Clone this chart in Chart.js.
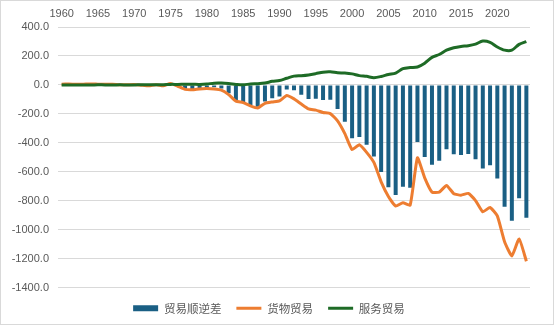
<!DOCTYPE html>
<html>
<head>
<meta charset="utf-8">
<script src="https://cdn.jsdelivr.net/npm/chart.js@4.4.1/dist/chart.umd.min.js"></script>
<style>
html,body{margin:0;padding:0;background:#fff;}
.chart-box{width:552px;height:323px;border:1px solid #d9d9d9;}
</style>
</head>
<body>
<div class="chart-box"><canvas id="trade" width="552" height="323"></canvas></div>
<script>
// 1960 - 2024
const years = [];
for (let y = 1960; y <= 2024; y++) { years.push(String(y)); }

// 贸易顺逆差 (bars)
const balance = [
  3.5, 4.5, 3.9, 4.6, 6.4, 5.3, 3.8, 3.4, 0.9, 0.5,
  2.6, -1.3, -5.5, 1.9, -4.3, 12.4, -6.1, -27.3, -29.7, -24.1,
  -19.4, -16.1, -24.2, -57.8, -109.1, -121.9, -138.6, -151.7, -114.6, -93.1,
  -80.8, -31.1, -36.5, -68.8, -96.8, -96.4, -104.1, -103.0, -167.0, -254.0,
  -368.0, -360.0, -414.0, -494.0, -602.0, -708.0, -760.0, -703.0, -710.0, -395.0,
  -498.0, -551.0, -525.0, -445.0, -480.0, -485.0, -478.0, -513.0, -577.0, -556.0,
  -647.0, -842.0, -938.0, -783.0, -918.0
];

// 货物贸易
const goods = [
  4.9, 5.6, 4.5, 5.2, 6.8, 5.0, 3.8, 3.8, 0.6, 0.6,
  2.6, -2.3, -6.4, 0.9, -5.5, 8.9, -9.5, -31.1, -33.9, -27.6,
  -25.5, -28.0, -36.5, -67.1, -112.5, -122.2, -145.1, -159.6, -127.0, -117.7,
  -111.0, -74.0, -96.9, -132.5, -165.8, -174.2, -191.0, -198.4, -248.2, -336.3,
  -447.0, -414.0, -466.0, -536.0, -670.0, -771.0, -837.0, -814.0, -830.0, -504.0,
  -642.0, -740.6, -741.1, -695.0, -751.5, -761.9, -749.8, -799.3, -877.0, -847.0,
  -905.0, -1083.5, -1182.0, -1064.0, -1218.0
];

// 服务贸易
const services = [
  -1.4, -1.1, -0.6, -0.6, -0.4, 0.3, 0.0, -0.4, 0.3, -0.1,
  0.0, 1.0, 0.9, 1.0, 1.2, 3.5, 3.4, 3.8, 4.2, 3.5,
  6.1, 11.9, 12.3, 9.3, 3.4, 0.3, 6.5, 7.9, 12.4, 24.6,
  30.2, 45.8, 60.4, 63.7, 69.0, 77.8, 88.0, 90.2, 84.0, 82.0,
  76.0, 64.0, 59.0, 50.0, 58.0, 72.0, 82.0, 112.0, 120.0, 124.0,
  150.0, 190.0, 210.0, 240.0, 257.0, 266.0, 271.0, 282.0, 303.0, 294.0,
  262.0, 240.0, 240.0, 280.0, 299.0
];

const yTickMin = -1400;
const yTickMax = 400;
const yTickStep = 200;

const gray = '#595959';
const baseFont = "'Liberation Sans', Arial, 'Noto Sans CJK SC', sans-serif";
const cjkFont = "'Noto Sans CJK SC', 'Liberation Sans', sans-serif";

function renderTradeChart(canvasId){
     let ctx = document.getElementById(canvasId).getContext('2d');
     let myChart = new Chart(ctx, {
          type: 'bar',
          data: {
               labels: years,
               datasets: [
                    {
                         type: 'bar',
                         label: '贸易顺逆差',
                         data: balance,
                         backgroundColor: '#1a5f84',
                         borderWidth: 0,
                         barPercentage: 0.55,
                         categoryPercentage: 1,
                         pointStyle: 'rect',
                         order: 3
                    },
                    {
                         type: 'line',
                         label: '货物贸易',
                         data: goods,
                         borderColor: '#ed7d31',
                         backgroundColor: '#ed7d31',
                         borderWidth: 3,
                         pointRadius: 0,
                         tension: 0.15,
                         pointStyle: 'line',
                         order: 2
                    },
                    {
                         type: 'line',
                         label: '服务贸易',
                         data: services,
                         borderColor: '#1e6b26',
                         backgroundColor: '#1e6b26',
                         borderWidth: 3,
                         pointRadius: 0,
                         tension: 0.3,
                         pointStyle: 'line',
                         order: 1
                    }
               ]
          },
          options: {
               responsive: false,
               animation: false,
               layout: {
                    padding: {left: 7, right: 23, top: 6, bottom: 0}
               },
               plugins: {
                    legend: {
                         position: 'bottom',
                         labels: {
                              usePointStyle: true,
                              pointStyleWidth: 25,
                              boxHeight: 6,
                              padding: 15,
                              color: gray,
                              font: {family: cjkFont, size: 11.5},
                              // keep dataset order, not draw order
                              sort: (a, b) => a.datasetIndex - b.datasetIndex
                         }
                    },
                    tooltip: {enabled: false}
               },
               scales: {
                    x: {
                         position: 'top',
                         grid: {display: false, drawTicks: false},
                         border: {display: false},
                         afterFit: (axis) => { axis.height = 20; },
                         ticks: {
                              autoSkip: false,
                              maxRotation: 0,
                              padding: 6,
                              color: gray,
                              font: {family: baseFont, size: 11},
                              callback: function(val, i){
                                   return (1960 + i) % 5 === 0 ? years[i] : '';
                              }
                         }
                    },
                    y: {
                         min: yTickMin,
                         max: yTickMax,
                         grid: {color: '#d9d9d9', drawTicks: false},
                         border: {display: false},
                         afterFit: (axis) => { axis.width = 50; },
                         ticks: {
                              stepSize: yTickStep,
                              padding: 9,
                              color: gray,
                              font: {family: baseFont, size: 11},
                              callback: (v) => v.toFixed(1)
                         }
                    }
               }
          }
     });
     return myChart;
}

renderTradeChart('trade');
</script>
</body>
</html>
